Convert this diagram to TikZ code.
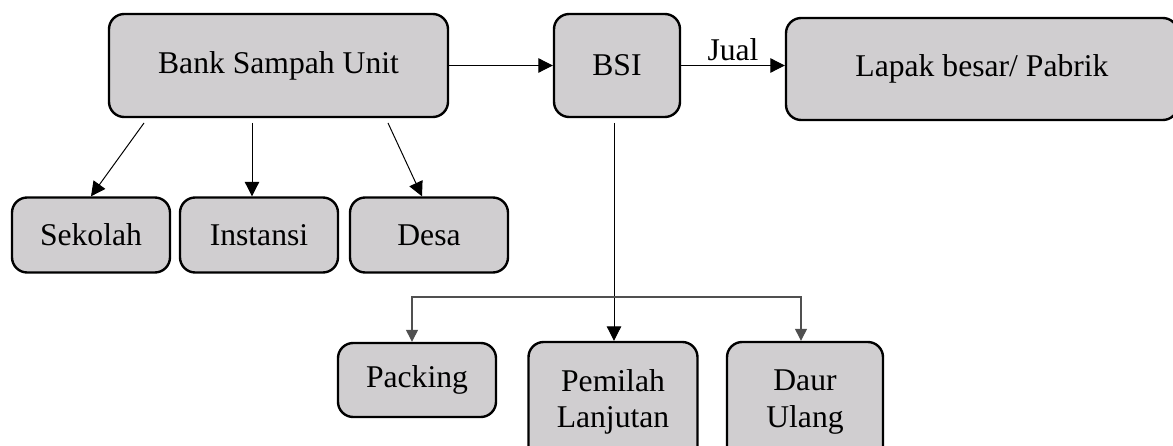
\documentclass[tikz,border=0pt]{standalone}
\usepackage{fontspec}
\setmainfont{Liberation Serif}
\usetikzlibrary{arrows.meta}

\definecolor{boxgray}{RGB}{208,206,208}
\definecolor{linegray}{RGB}{80,80,80}

\tikzset{
	box/.style={draw, line width=1.7pt, rounded corners=0.38cm, fill=boxgray, align=center, inner sep=0pt},
	arr/.style={line width=0.7pt, -{Triangle[length=0.36cm, width=0.36cm]}},
	arrg/.style={line width=0.9pt, draw=linegray, -{Triangle[length=0.3cm, width=0.3cm]}},
}

\begin{document}
\begin{tikzpicture}[x=0.025cm, y=-0.025cm, font=\fontsize{22.5}{25.8}\selectfont]
		
		% --- one unit = one pixel of the original drawing ---
		\def\px{0.025} % size of one pixel in cm
		\useasboundingbox (0,0) rectangle (1173,446);
		
		% --- Top row: Bank Sampah Unit -> BSI -> Lapak ---
		\node[box, minimum width={339*\px cm}, minimum height={103*\px cm}] (bsu) at (278.5,65.5) {Bank Sampah Unit};
		\node[box, minimum width={126*\px cm}, minimum height={103*\px cm}] (bsi) at (617,65.5) {BSI};
		\node[box, minimum width={392*\px cm}, minimum height={102*\px cm}] (lapak) at (982,69) {Lapak besar/ Pabrik};
		
		\draw[arr] (bsu) -- (bsi);
		\draw[arr] (bsi.east) -- (bsi.east -| lapak.west) node[midway, above] {Jual};
		
		% --- Units below Bank Sampah Unit ---
		\foreach \name/\txt/\cx in {sekolah/Sekolah/91, instansi/Instansi/259, desa/Desa/429} {
			\node[box, minimum width={158*\px cm}, minimum height={75*\px cm}] (\name) at (\cx,235) {\txt};
		}
		
		% Start points of the arrows (just under the box)
		\coordinate (b1) at (144,123);
		\coordinate (b2) at (252,123);
		\coordinate (b3) at (388,123);
		\draw[arr] (b1) -- (sekolah.north);
		\draw[arr] (b2) -- (b2 |- instansi.north);
		\draw[arr] (b3) -- ([xshift={-7*\px cm}]desa.north);
		
		% --- Processing at BSI ---
		\node[box, minimum width={158*\px cm}, minimum height={74*\px cm}] (packing) at (417,380) {Packing};
		\node[box, minimum width={169*\px cm}, minimum height={120*\px cm}] (pemilah) at (613,402) {Pemilah\\Lanjutan};
		\node[box, minimum width={156*\px cm}, minimum height={120*\px cm}] (daur) at (805,402) {Daur\\Ulang};
		
		\coordinate (bsiout) at (614,123);
		\coordinate (split) at (614,297);
		\draw[arr] (bsiout) -- (bsiout |- pemilah.north);
		\draw[arrg] (split) -| ([xshift={-5*\px cm}]packing.north);
		\draw[arrg] (split) -| ([xshift={-4*\px cm}]daur.north);
		
	\end{tikzpicture}
\end{document}
